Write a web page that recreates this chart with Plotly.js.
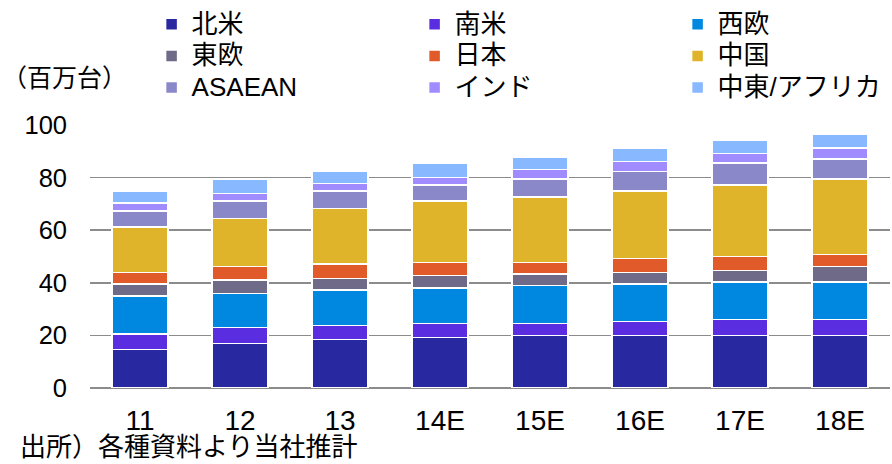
<!DOCTYPE html>
<html>
<head>
<meta charset="utf-8">
<script src="https://cdn.plot.ly/plotly-3.0.1.min.js"></script>
<style>html,body{margin:0;padding:0;background:#fff;}#chart{width:892px;height:464px;}</style>
</head>
<body>
<div id="chart"></div>
<script>
var categories = ['11', '12', '13', '14E', '15E', '16E', '17E', '18E'];
var seriesNames = ['北米', '南米', '西欧', '東欧', '日本', '中国', 'ASAEAN', 'インド', '中東/アフリカ'];
var northAmerica = [14.6, 16.9, 18.5, 19.2, 19.9, 19.9, 19.9, 19.9];
var southAmerica = [6.0, 6.1, 5.2, 5.3, 4.6, 5.4, 6.1, 6.1];
var westEurope = [14.3, 12.9, 13.5, 13.6, 14.4, 14.3, 14.3, 14.3];
var eastEurope = [4.6, 5.1, 4.5, 4.6, 4.4, 4.3, 4.4, 5.9];
var japan = [4.4, 5.2, 5.4, 5.0, 4.4, 5.4, 5.3, 4.6];
var china = [17.4, 18.2, 21.1, 23.4, 24.9, 25.6, 27.1, 28.6];
var asean = [6.0, 6.7, 6.7, 6.0, 6.8, 7.5, 8.4, 7.6];
var india = [3.0, 2.9, 2.9, 3.0, 3.6, 3.7, 3.6, 4.3];
var meAfrica = [4.6, 5.5, 4.6, 5.4, 4.6, 5.2, 5.2, 5.3];
var colors = ['#2828A0', '#5A2EE0', '#0088E0', '#6E6A88', '#E05A2A', '#E0B42A', '#8A88C8', '#A08CFF', '#88B8FF'];
var seriesValues = [northAmerica, southAmerica, westEurope, eastEurope, japan, china, asean, india, meAfrica];
var tickValues = [0, 20, 40, 60, 80, 100];

var FONT = 'Liberation Sans, Arial, Noto Sans CJK JP, sans-serif';

var traces = seriesValues.map(function (vals, i) {
  return {
    type: 'bar',
    name: '<span style="font-size:26px">' + seriesNames[i] + '</span>',
    x: categories,
    y: vals,
    marker: { color: colors[i], line: { color: '#ffffff', width: 1.5 } },
    hoverinfo: 'y'
  };
});

var layout = {
  width: 892,
  height: 464,
  barmode: 'stack',
  bargap: 0.44,
  paper_bgcolor: '#ffffff',
  plot_bgcolor: '#ffffff',
  font: { family: FONT, color: '#000000' },
  margin: { l: 90, r: 2, t: 125, b: 76, pad: 0, autoexpand: false },
  xaxis: {
    type: 'category',
    showgrid: false,
    showline: false,
    ticks: '',
    tickfont: { size: 28, family: FONT },
    ticklabelstandoff: 13,
    fixedrange: true
  },
  yaxis: {
    range: [0, 100],
    tickvals: tickValues,
    showgrid: true,
    gridcolor: '#8c8c8c',
    gridwidth: 1.5,
    zeroline: true,
    zerolinecolor: '#8c8c8c',
    zerolinewidth: 2,
    showline: false,
    ticks: '',
    tickfont: { size: 25.5, family: FONT },
    ticklabelstandoff: 22,
    fixedrange: true
  },
  showlegend: true,
  legend: {
    orientation: 'h',
    traceorder: 'normal',
    x: 0.077,
    xanchor: 'left',
    y: 1.462,
    yanchor: 'top',
    entrywidth: 218,
    entrywidthmode: 'pixels',
    font: { size: 22, family: FONT },
    bgcolor: 'rgba(0,0,0,0)',
    itemclick: false,
    itemdoubleclick: false
  },
  annotations: [
    {
      text: '（百万台）',
      xref: 'paper', yref: 'paper',
      x: -0.112, y: 1.18,
      xanchor: 'left', yanchor: 'middle',
      showarrow: false,
      font: { size: 25, family: FONT }
    },
    {
      text: '出所）各種資料より当社推計',
      xref: 'paper', yref: 'paper',
      x: -0.09, y: -0.289,
      xanchor: 'left', yanchor: 'bottom',
      showarrow: false,
      font: { size: 26, family: FONT }
    }
  ]
};

Plotly.newPlot('chart', traces, layout, { displayModeBar: false, staticPlot: true });
</script>
</body>
</html>
